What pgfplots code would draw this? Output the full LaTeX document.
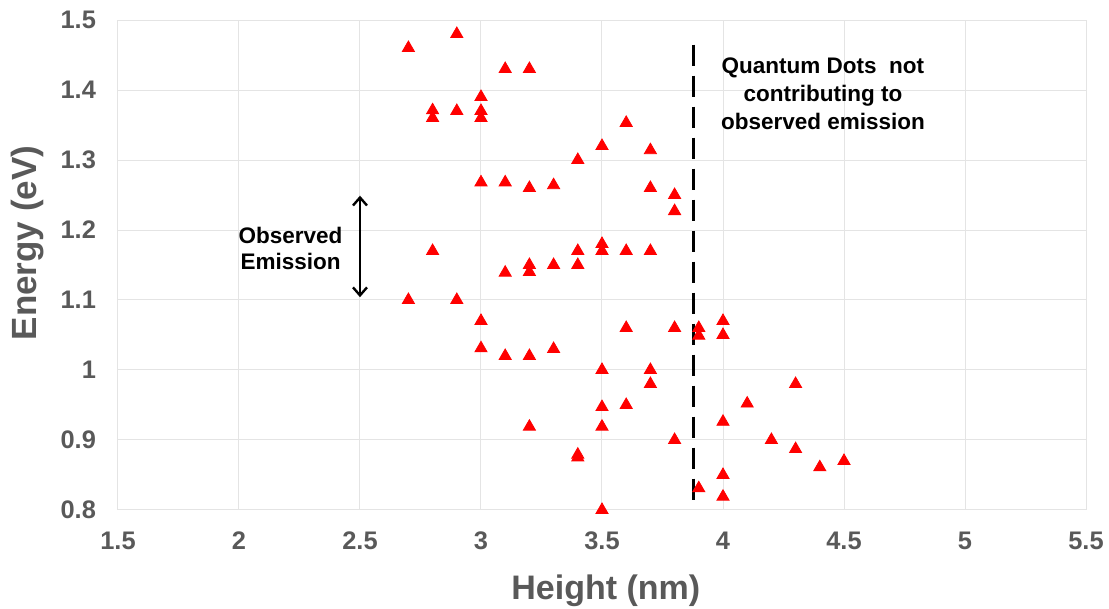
\documentclass[border=0pt]{standalone}
\usepackage{fontspec}
\setmainfont{Liberation Sans}
\usepackage{pgfplots}
\pgfplotsset{compat=1.18}
\usetikzlibrary{arrows.meta}
\definecolor{tickgray}{HTML}{595959}
\definecolor{gridgray}{HTML}{E4E4E4}
\begin{document}
\begin{tikzpicture}
\begin{axis}[
  name=ax,
  scale only axis,
  width=484pt, height=245pt,
  xmin=1.5, xmax=5.5, ymin=0.8, ymax=1.5,
  xtick={1.5,2,2.5,3,3.5,4,4.5,5,5.5},
  ytick={0.8,0.9,1,1.1,1.2,1.3,1.4,1.5},
  yticklabels={0.8,0.9,1,1.1,1.2,1.3,1.4,1.5},
  xticklabels={1.5,2,2.5,3,3.5,4,4.5,5,5.5},
  grid=major,
  grid style={draw=gridgray, line width=0.5pt},
  axis line style={draw=gridgray, line width=0.5pt},
  major tick length=0pt,
  /pgf/number format/assume math mode=true,
  ticklabel style={font=\bfseries\fontsize{12.7}{14}\selectfont, text=tickgray},
  xticklabel style={yshift=-7.5pt},
  yticklabel style={xshift=-7.5pt},
  xlabel={Height (nm)},
  ylabel={Energy (eV)},
  every axis x label/.style={at={(axis description cs:0.504,0)}, anchor=base, yshift=-45pt, font=\bfseries\fontsize{17}{20}\selectfont, text=tickgray},
  every axis y label/.style={at={(axis description cs:-0.093,0.545)}, anchor=center, rotate=90, font=\bfseries\fontsize{17.5}{20}\selectfont, text=tickgray},
  clip=false,
]
\addplot[only marks, mark=triangle*, mark size=3.5pt, color=red, mark options={fill=red, draw=red}] coordinates {
(2.7,1.46) (2.7,1.10)
(2.8,1.371) (2.8,1.36) (2.8,1.17)
(2.9,1.48) (2.9,1.37) (2.9,1.10)
(3.0,1.39) (3.0,1.37) (3.0,1.36) (3.0,1.268) (3.0,1.07) (3.0,1.031)
(3.1,1.43) (3.1,1.268) (3.1,1.139) (3.1,1.02)
(3.2,1.43) (3.2,1.26) (3.2,1.15) (3.2,1.14) (3.2,1.02) (3.2,0.919)
(3.3,1.264) (3.3,1.15) (3.3,1.03)
(3.4,1.30) (3.4,1.17) (3.4,1.15) (3.4,0.879) (3.4,0.875)
(3.5,1.32) (3.5,1.18) (3.5,1.17) (3.5,1.0) (3.5,0.947) (3.5,0.919) (3.5,0.80)
(3.6,1.353) (3.6,1.17) (3.6,1.06) (3.6,0.95)
(3.7,1.314) (3.7,1.26) (3.7,1.17) (3.7,1.0) (3.7,0.98)
(3.8,1.25) (3.8,1.227) (3.8,1.06) (3.8,0.90)
(3.9,1.06) (3.9,1.049) (3.9,0.831)
(4.0,1.07) (4.0,1.05) (4.0,0.926) (4.0,0.85) (4.0,0.819)
(4.1,0.952)
(4.2,0.90)
(4.3,0.98) (4.3,0.887)
(4.4,0.861)
(4.5,0.87)
};
\addplot[black, line width=1.35pt, dash pattern=on 10.5pt off 5pt] coordinates {(3.877,1.465) (3.877,0.807)};
\addplot[black, line width=1.2pt, {Straight Barb[length=4pt,width=7pt]}-{Straight Barb[length=4pt,width=7pt]}] coordinates {(2.5,1.104) (2.5,1.249)};
\node[align=center, font=\bfseries\fontsize{11.25}{13}\selectfont, anchor=center, inner sep=0pt] at (axis cs:2.213,1.174) {Observed\\Emission};
\node[align=center, font=\bfseries\fontsize{11.25}{14}\selectfont, anchor=center, inner sep=0pt] at (axis cs:4.413,1.395) {Quantum Dots\ \ not\\contributing to\\observed emission};
\end{axis}
\pgfresetboundingbox
\path (ax.south west) ++(-59pt,-49.5pt) coordinate (bbA);
\path (ax.south west) ++(495.5pt,255pt) coordinate (bbB);
\path (bbA) rectangle (bbB);
\end{tikzpicture}
\end{document}
